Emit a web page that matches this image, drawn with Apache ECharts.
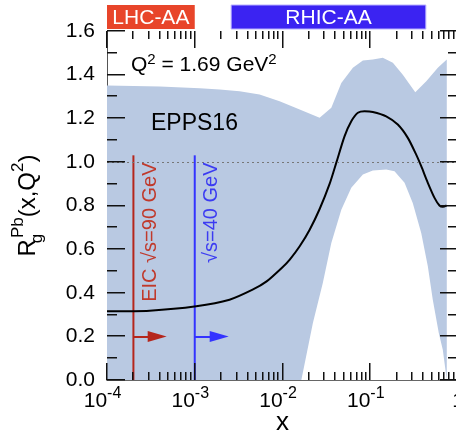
<!DOCTYPE html>
<html>
<head>
<meta charset="utf-8">
<script src="https://cdn.jsdelivr.net/npm/echarts@6.0.0/dist/echarts.min.js"></script>
<style>
  html, body { margin: 0; padding: 0; background: #fff; }
  #chart { width: 456px; height: 434px; }
</style>
</head>
<body>
<div id="chart"></div>
<script>
// EPPS16 gluon modification in Pb, Q^2 = 1.69 GeV^2
var curveX = [1e-4, 3.06e-4, 1.04e-3, 2.49e-3, 4.56e-3, 6.59e-3, 0.01, 0.0121, 0.0157, 0.0204, 0.0265, 0.0345, 0.0413,
  0.0509, 0.0608, 0.0723, 0.0861, 0.107, 0.152, 0.206, 0.268, 0.334, 0.381, 0.453, 0.540, 0.615, 0.671, 0.740];
var curveY = [0.315, 0.318, 0.338, 0.368, 0.414, 0.452, 0.517, 0.552, 0.613, 0.689, 0.784, 0.90, 1.00,
  1.117, 1.186, 1.225, 1.232, 1.229, 1.209, 1.171, 1.110, 1.033, 0.980, 0.904, 0.835, 0.800, 0.794, 0.80];

var upperX = [1e-4, 4.0e-4, 1.14e-3, 1.92e-3, 3.24e-3, 5.48e-3, 9.27e-3, 0.0157, 0.0265, 0.0360,
  0.0468, 0.0634, 0.0824, 0.107, 0.139, 0.181, 0.235, 0.326, 0.435, 0.589, 0.745];
var upperY = [1.350, 1.345, 1.338, 1.332, 1.324, 1.309, 1.278, 1.240, 1.202, 1.248,
  1.362, 1.431, 1.465, 1.469, 1.477, 1.454, 1.400, 1.319, 1.370, 1.431, 1.469];

var lowerX = [1e-4, 0.0164, 0.0222, 0.0288, 0.0360, 0.0468, 0.0608, 0.0824, 0.107, 0.152,
  0.189, 0.246, 0.305, 0.381, 0.453, 0.516, 0.604, 0.671, 0.745];
var lowerY = [0, 0, 0.261, 0.445, 0.628, 0.781, 0.881, 0.942, 0.961, 0.965,
  0.957, 0.904, 0.812, 0.674, 0.521, 0.368, 0.216, 0.139, 0];

// tick values
var majorX = [1e-4, 1e-3, 1e-2, 1e-1, 1];
var minorX = [];
for (var d = 0; d < majorX.length - 1; d++) {
  for (var m = 2; m <= 9; m++) minorX.push(+(majorX[d] * m).toPrecision(3));
}
var majorY = [0, 0.2, 0.4, 0.6, 0.8, 1.0, 1.2, 1.4, 1.6];
var minorY = [0.1, 0.3, 0.5, 0.7, 0.9, 1.1, 1.3, 1.5];

var markerNames = ['EIC \u221as=90 GeV', '\u221as=40 GeV'];
var markerX = [2e-4, 1e-3];
var markerTop = [1.03, 1.03];
var arrowY = 0.2;
var arrowHeadX = [3.73e-4, 1.9e-3];
var textY = [0.678, 0.767];

var bannerNames = ['LHC-AA', 'RHIC-AA'];
var bannerFrom = [1e-4, 2.6e-3];
var bannerTo = [1e-3, 0.43];

var FONT = '"Liberation Sans", Arial, Helvetica, sans-serif';
var lineColors = ['#b5261c', '#3333ff'];
var textColors = ['#c0392b', '#3b3bf2'];
var TICK = '#111';

var chart = echarts.init(document.getElementById('chart'));

function logAxis(pos) {
  return {
    type: 'log', logBase: 10, min: 1e-4, max: 1, position: pos,
    axisLine: { show: true, lineStyle: { color: '#666', width: 1 } },
    axisTick: { show: false },
    axisLabel: { show: false },
    splitLine: { show: false },
    minorTick: { show: false }
  };
}

var xMain = logAxis('bottom');
xMain.axisLabel = {
  show: true, margin: 6, customValues: majorX, color: '#000', fontFamily: FONT,
  formatter: function (v) {
    var e = Math.round(Math.log10(v));
    if (e === 0) return '{b|1}';
    return '{b|10}{s|' + e + '}{p|}';
  },
  rich: {
    b: { fontSize: 21, lineHeight: 30, fontFamily: FONT, color: '#000' },
    s: { fontSize: 16, lineHeight: 12, verticalAlign: 'top', fontFamily: FONT, color: '#000' },
    p: { width: 9 }
  }
};
xMain.name = 'x';
xMain.nameLocation = 'middle';
xMain.nameGap = 30;
xMain.nameMoveOverlap = false;
xMain.nameTextStyle = { fontSize: 26, fontFamily: FONT, color: '#000' };

function yAxis(pos, labels) {
  return {
    type: 'value', min: 0, max: 1.6, interval: 0.2, position: pos,
    axisLine: { show: true, lineStyle: { color: '#555', width: 1 } },
    axisTick: { show: false },
    minorTick: { show: false },
    splitLine: { show: false },
    axisLabel: { show: labels, margin: 12, fontSize: 21, color: '#000', fontFamily: FONT,
      formatter: function (v) { return v.toFixed(1); } }
  };
}
var yLeft = yAxis('left', true);
yLeft.name = '{r|R}{g|g}{p|Pb}{r|(x,Q}{s|2}{r|)}';
yLeft.nameLocation = 'middle';
yLeft.nameRotate = 90;
yLeft.nameGap = 61;
yLeft.nameMoveOverlap = false;
yLeft.nameTextStyle = {
  fontFamily: FONT, color: '#000',
  rich: {
    r: { fontSize: 24, lineHeight: 36, fontFamily: FONT, color: '#000' },
    g: { fontSize: 17, lineHeight: 12, width: 1, verticalAlign: 'bottom', fontFamily: FONT, color: '#000' },
    p: { fontSize: 17, lineHeight: 12, verticalAlign: 'top', fontFamily: FONT, color: '#000' },
    s: { fontSize: 17, lineHeight: 12, verticalAlign: 'top', fontFamily: FONT, color: '#000' }
  }
};

var series = [
  {
    name: 'band', type: 'custom', z: 1, silent: true,
    data: [[upperX[0], upperY[0]]],
    renderItem: function (params, api) {
      var pts = [];
      for (var i = 0; i < upperX.length; i++) pts.push(api.coord([upperX[i], upperY[i]]));
      for (var j = lowerX.length - 1; j >= 0; j--) pts.push(api.coord([lowerX[j], lowerY[j]]));
      return { type: 'polygon', shape: { points: pts }, style: { fill: '#b9c9e2' } };
    }
  },
  {
    name: 'EPPS16', type: 'line', z: 4, smooth: 0.25, symbol: 'none',
    data: curveX.map(function (x, i) { return [x, curveY[i]]; }),
    lineStyle: { color: '#000', width: 2 },
    markLine: {
      silent: true, symbol: 'none', label: { show: false },
      lineStyle: { color: '#777', width: 1, type: [2, 3] },
      data: [{ yAxis: 1.0 }]
    }
  }
];
markerX.forEach(function (x, i) {
  series.push({
    name: markerNames[i], type: 'line', z: 3, symbol: 'none',
    data: [[x, 0], [x, markerTop[i]]],
    lineStyle: { color: lineColors[i], width: 2 },
    markLine: {
      silent: true, symbol: ['none', 'triangle'], symbolSize: [11, 19],
      label: { show: false },
      lineStyle: { color: lineColors[i], width: 2, type: 'solid' },
      data: [[{ coord: [x, arrowY] }, { coord: [arrowHeadX[i], arrowY] }]]
    }
  });
});

chart.setOption({
  animation: false,
  backgroundColor: '#fff',
  grid: { left: 107, top: 31, width: 351, height: 349, containLabel: false, outerBoundsMode: 'none' },
  xAxis: [xMain, logAxis('top')],
  yAxis: [yLeft, yAxis('right', false)],
  series: series
});

function px(x, y) { return chart.convertToPixel({ xAxisIndex: 0, yAxisIndex: 0 }, [x, y]); }

var graphic = [];

// inward ticks on all four sides of the frame, placed through the axes' scales
var x0 = px(1e-4, 0)[0], x1 = px(1, 0)[0];
var yb = px(1e-4, 0)[1], yt = px(1e-4, 1.6)[1];
function tickRect(x, y, w, h) {
  graphic.push({ type: 'rect', z: 12, silent: true, shape: { x: x, y: y, width: w, height: h }, style: { fill: TICK } });
}
function addXTicks(values, len) {
  values.forEach(function (v) {
    var x = Math.round(px(v, 0)[0]) - 1;
    tickRect(x, yb - len, 1.5, len);
    tickRect(x, yt, 1.5, len);
  });
}
function addYTicks(values, len) {
  values.forEach(function (v) {
    var y = Math.round(px(1e-2, v)[1]);
    tickRect(x0, y - 1, len, 1.5);
    tickRect(x1 - len, y - 1, len, 1.5);
  });
}
addXTicks(majorX, 17);
addXTicks(minorX, 8);
addYTicks(majorY, 18);
addYTicks(minorY, 10);

bannerNames.forEach(function (name, i) {
  var a = px(bannerFrom[i], 0)[0], b = px(bannerTo[i], 0)[0];
  graphic.push({
    type: 'rect', z: 10, shape: { x: a, y: 5, width: b - a, height: 24 },
    style: { fill: i === 0 ? '#e8452a' : '#3b23f2', stroke: i === 0 ? null : '#b8b0ff', lineWidth: 1 }
  });
  graphic.push({
    type: 'text', z: 11, x: (a + b) / 2, y: 18,
    style: { text: name, fill: '#fff', font: '21px ' + FONT, align: 'center', verticalAlign: 'middle' }
  });
});
markerNames.forEach(function (name, i) {
  var p = px(markerX[i], textY[i]);
  graphic.push({
    type: 'text', z: 10, x: p[0] + 17, y: p[1], rotation: Math.PI / 2,
    style: { text: name, fill: textColors[i], font: '20px ' + FONT, align: 'center', verticalAlign: 'middle' }
  });
});
graphic.push({
  type: 'text', z: 10, x: 131, y: 52,
  style: {
    text: '{n|Q}{s|2}{n| = 1.69 GeV}{s|2}', fill: '#000',
    rich: {
      n: { fontSize: 21, lineHeight: 26, fontFamily: FONT, fill: '#000' },
      s: { fontSize: 15, lineHeight: 12, verticalAlign: 'top', fontFamily: FONT, fill: '#000' }
    }
  }
});
graphic.push({
  type: 'text', z: 10, x: 151, y: 124,
  style: { text: 'EPPS16', fill: '#000', font: '23px ' + FONT, align: 'left', verticalAlign: 'middle' }
});
chart.setOption({ graphic: graphic });
</script>
</body>
</html>
